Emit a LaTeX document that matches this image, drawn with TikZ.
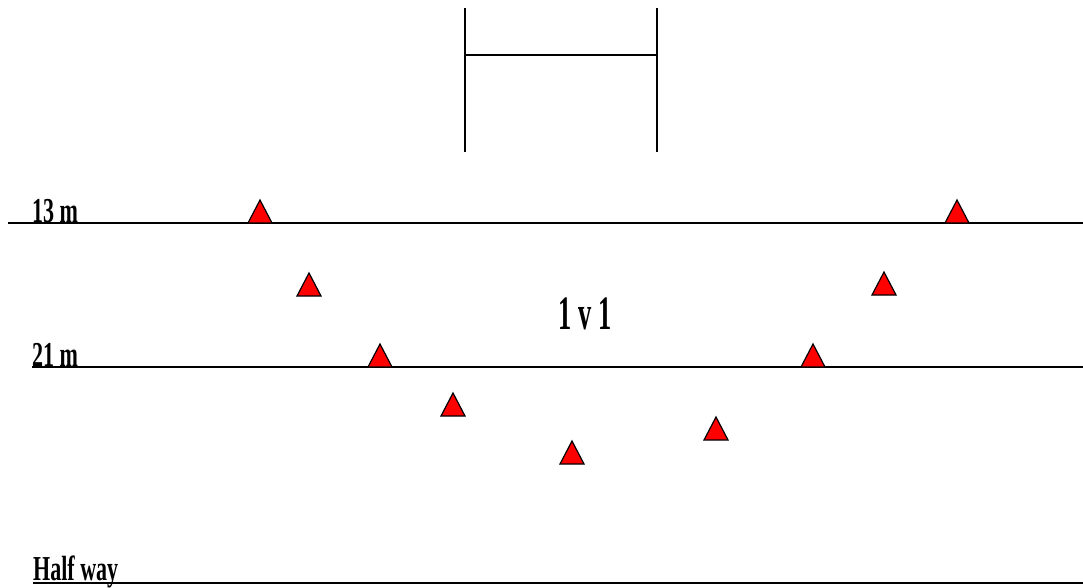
\documentclass[tikz,border=0pt]{standalone}
\usepackage{fontspec}
\setmainfont{Liberation Serif}
\begin{document}
\begin{tikzpicture}[x=1pt,y=-1pt,
  fieldline/.style={line width=1.8pt,black},
  post/.style={line width=1.6pt,black},
  cone/.style={fill=red,draw=black,line width=1.2pt,line join=miter},
  lbl/.style={inner sep=0pt,anchor=base west,xscale=0.63,font=\fontsize{35}{35}\selectfont\bfseries}]
\useasboundingbox (0,0) rectangle (1083,588);
% goal posts
\coordinate (pl1) at (465,8); \coordinate (pl2) at (465,152);
\coordinate (pr1) at (657,8); \coordinate (pr2) at (657,152);
\coordinate (cbl) at (465,55); \coordinate (cbr) at (657,55);
\draw[post] (pl1) -- (pl2);
\draw[post] (pr1) -- (pr2);
\draw[post] (cbl) -- (cbr);
% lines
\coordinate (l13a) at (8,223); \coordinate (l13b) at (1083,223);
\coordinate (l21a) at (32,367); \coordinate (l21b) at (1083,367);
\coordinate (lhwa) at (33,583); \coordinate (lhwb) at (1083,583);
\draw[fieldline] (l13a) -- (l13b);
\draw[fieldline] (l21a) -- (l21b);
\draw[fieldline] (lhwa) -- (lhwb);
% labels
\node[lbl] (t13) at (32,222) {13 m};
\node[lbl] (t21) at (32,366) {21 m};
\node[lbl] (thw) at (33,580) {Half way};
\node[inner sep=0pt,anchor=base,xscale=0.55,font=\fontsize{48}{48}\selectfont\bfseries] (t1v1) at (585,329) {1 v 1};
% cones (base centre)
\foreach \n/\x/\y in {c1/260/223, c2/957/223, c3/309/296, c4/884/295, c5/380/367, c6/813/367, c7/453/416, c8/716/440, c9/572/464}{
  \coordinate (\n) at (\x,\y);
  \draw[cone] (\n) ++(-12,0) -- ++(24,0) -- ++(-12,-23) -- cycle;
}
\end{tikzpicture}
\end{document}
